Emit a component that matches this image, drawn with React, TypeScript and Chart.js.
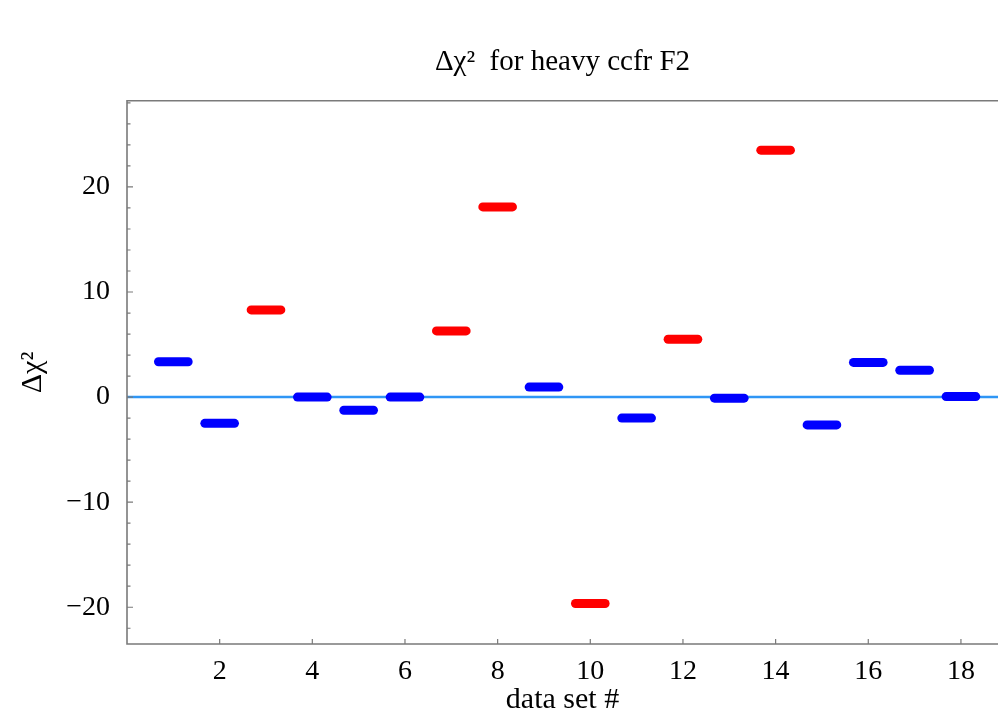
import React, { useEffect, useRef } from "react";
import { Chart, registerables } from "chart.js";

Chart.register(...registerables);

// ---- data ----
const dataSetNumbers = [1, 2, 3, 4, 5, 6, 7, 8, 9, 10, 11, 12, 13, 14, 15, 16, 17, 18];
const deltaChi2 = [3.36, -2.5, 8.3, 0.0, -1.25, 0.0, 6.3, 18.1, 0.95, -19.65, -2.0, 5.5, -0.1, 23.5, -2.65, 3.3, 2.55, 0.05];
const highlightedSets = [3, 7, 8, 10, 12, 14];
const xTickValues = [2, 4, 6, 8, 10, 12, 14, 16, 18];
const yTickValues = [-20, -10, 0, 10, 20];
const yMinorStep = 2;
const xLimits = [0, 18.8];
const yLimits = [-23.5, 28.2];
const referenceLevel = [0, 0];
const segmentHalfWidth = 0.32;

const titleText = "Δχ²  for heavy ccfr F2";
const xTitle = "data set #";
const yTitle = "Δχ²";

const FONT = "'Liberation Serif', 'Times New Roman', serif";

const framePlugin = {
  id: "frameTicks",
  afterDatasetsDraw(chart: any) {
    const { ctx, chartArea, scales } = chart;
    const { left, right, top, bottom } = chartArea;
    const x = scales.x;
    const y = scales.y;
    ctx.save();
    ctx.strokeStyle = "#7a7a7a";
    ctx.lineWidth = 1.6;
    ctx.beginPath();
    ctx.moveTo(right, top);
    ctx.lineTo(left, top);
    ctx.lineTo(left, bottom);
    ctx.lineTo(right, bottom);
    ctx.stroke();
    ctx.lineWidth = 1.2;
    ctx.beginPath();
    const start = Math.ceil(y.min / yMinorStep) * yMinorStep;
    for (let v = start; v <= y.max; v += yMinorStep) {
      const py = y.getPixelForValue(v);
      const len = v % 10 === 0 ? 6 : 3.5;
      ctx.moveTo(left, py);
      ctx.lineTo(left + len, py);
    }
    for (const v of xTickValues) {
      const px = x.getPixelForValue(v);
      ctx.moveTo(px, bottom);
      ctx.lineTo(px, bottom - 5);
    }
    ctx.stroke();
    ctx.restore();
  },
};

export default function App() {
  const canvasRef = useRef<HTMLCanvasElement | null>(null);

  useEffect(() => {
    const canvas = canvasRef.current;
    if (!canvas) return;

    const segmentDatasets = dataSetNumbers.map((n, i) => {
      const v = deltaChi2[i];
      const color = highlightedSets.includes(n) ? "#ff0000" : "#0000ff";
      return {
        type: "line" as const,
        data: [
          { x: n - segmentHalfWidth, y: v },
          { x: n + segmentHalfWidth, y: v },
        ],
        borderColor: color,
        backgroundColor: color,
        borderWidth: 9,
        borderCapStyle: "round" as const,
        pointRadius: 0,
        fill: false,
        order: 1,
      };
    });

    const zeroLine = {
      type: "line" as const,
      data: [
        { x: xLimits[0], y: referenceLevel[0] },
        { x: xLimits[1], y: referenceLevel[1] },
      ],
      borderColor: "#2f96f5",
      borderWidth: 2.5,
      pointRadius: 0,
      fill: false,
      order: 10,
    };

    const chart = new Chart(canvas, {
      type: "line",
      data: { datasets: [zeroLine, ...segmentDatasets] as any },
      options: {
        responsive: false,
        animation: false,
        layout: { padding: 0 },
        plugins: {
          legend: { display: false },
          tooltip: { enabled: false },
          title: {
            display: true,
            text: titleText,
            color: "#000",
            fullSize: false,
            font: { family: FONT, size: 29, weight: "normal", lineHeight: 1.2 },
            padding: { top: 45, bottom: 21 },
          },
        },
        scales: {
          x: {
            type: "linear",
            min: xLimits[0],
            max: xLimits[1],
            grid: { display: false, drawTicks: false },
            border: { display: false },
            afterBuildTicks: (scale: any) => {
              scale.ticks = xTickValues.map((v) => ({ value: v }));
            },
            afterFit: (scale: any) => {
              scale.height = 71;
            },
            ticks: {
              color: "#000",
              font: { family: FONT, size: 28 },
              padding: 11,
              maxRotation: 0,
              autoSkip: false,
              callback: (v: any) => String(v),
            },
            title: {
              display: true,
              text: xTitle,
              color: "#000",
              font: { family: FONT, size: 30, lineHeight: 1 },
              padding: { top: 0, bottom: 0 },
            },
          },
          y: {
            type: "linear",
            min: yLimits[0],
            max: yLimits[1],
            grid: { display: false, drawTicks: false },
            border: { display: false },
            afterBuildTicks: (scale: any) => {
              scale.ticks = yTickValues.map((v) => ({ value: v }));
            },
            afterFit: (scale: any) => {
              scale.width = 127;
            },
            ticks: {
              color: "#000",
              font: { family: FONT, size: 28 },
              padding: 17,
              autoSkip: false,
              callback: (v: any) => (v < 0 ? "−" + Math.abs(v) : String(v)),
            },
            title: {
              display: true,
              text: yTitle,
              color: "#000",
              font: { family: FONT, size: 30, lineHeight: 1 },
              padding: { top: 18, bottom: 0 },
            },
          },
        },
      } as any,
      plugins: [framePlugin],
    });

    return () => chart.destroy();
  }, []);

  return (
    <div style={{ position: "absolute", left: 0, top: 0, width: 998, height: 715, background: "#fff" }}>
      <canvas ref={canvasRef} width={998} height={715} style={{ display: "block", width: 998, height: 715 }} />
    </div>
  );
}
